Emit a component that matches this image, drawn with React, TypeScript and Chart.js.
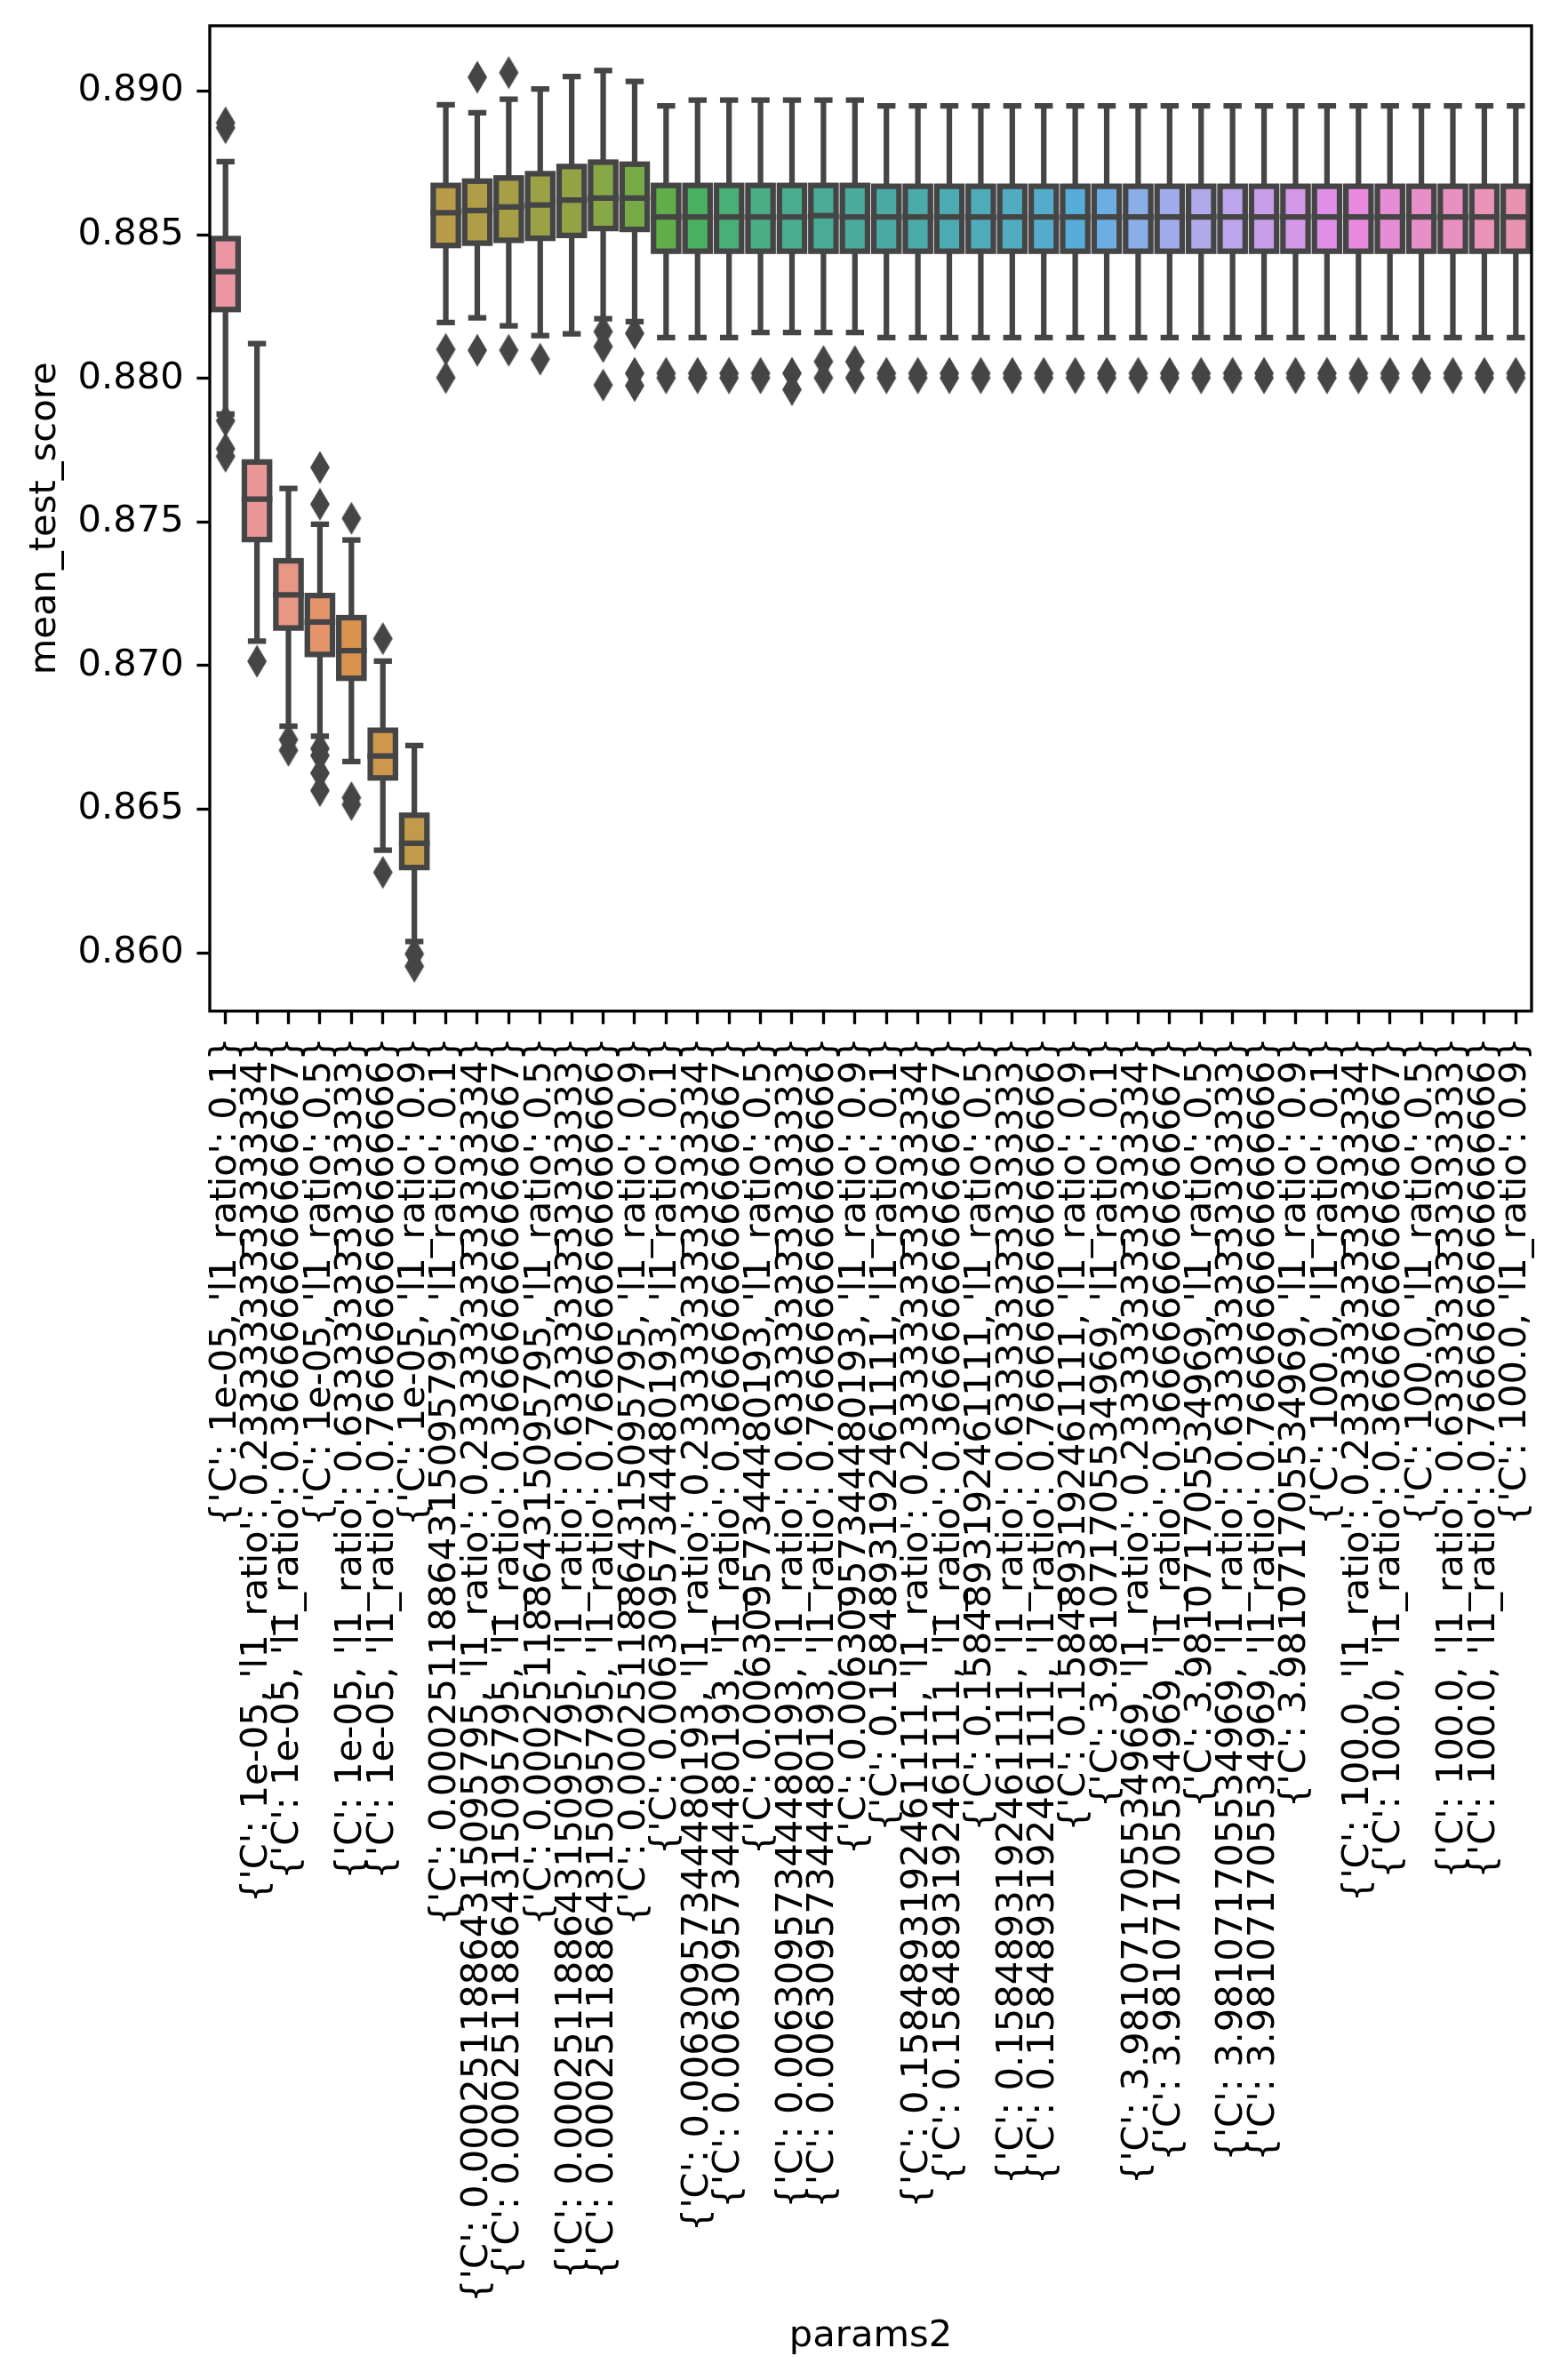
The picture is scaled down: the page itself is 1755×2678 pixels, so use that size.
import React, { useEffect, useRef } from "react";
import { Chart, registerables } from "chart.js";

Chart.register(...registerables);

// ---------- data ----------
const cValues = ["1e-05", "0.00025118864315095795", "0.00630957344480193", "0.1584893192461111", "3.981071705534969", "100.0"];
const l1Ratios = ["0.1", "0.23333333333333334", "0.3666666666666667", "0.5", "0.6333333333333333", "0.7666666666666666", "0.9"];
const categories = cValues.flatMap((c) => l1Ratios.map((r) => `{'C': ${c}, 'l1_ratio': ${r}}`));

const whiskerLow = [
  0.87876, 0.87085, 0.86789, 0.86754, 0.86666, 0.86357, 0.86039,
  0.88195, 0.88211, 0.88183, 0.88149, 0.88155, 0.88208, 0.88198,
  0.88142, 0.88142, 0.88142, 0.8816, 0.8816, 0.8816, 0.8816,
  0.88142, 0.88142, 0.88142, 0.88142, 0.88142, 0.88142, 0.88142,
  0.88142, 0.88142, 0.88142, 0.88142, 0.88142, 0.88142, 0.88142,
  0.88142, 0.88142, 0.88142, 0.88142, 0.88142, 0.88142, 0.88142,
];
const q1 = [
  0.8824, 0.87439, 0.87131, 0.87039, 0.86956, 0.86609, 0.86297,
  0.88463, 0.88471, 0.88481, 0.88488, 0.88498, 0.88522, 0.88519,
  0.88443, 0.88443, 0.88443, 0.88443, 0.88443, 0.88443, 0.88443,
  0.88443, 0.88443, 0.88443, 0.88443, 0.88443, 0.88443, 0.88443,
  0.88443, 0.88443, 0.88443, 0.88443, 0.88443, 0.88443, 0.88443,
  0.88443, 0.88443, 0.88443, 0.88443, 0.88443, 0.88443, 0.88443,
];
const median = [
  0.88372, 0.8758, 0.87246, 0.87152, 0.87052, 0.86685, 0.86381,
  0.88577, 0.88585, 0.88597, 0.88604, 0.88621, 0.88628, 0.88628,
  0.88562, 0.88562, 0.88562, 0.88562, 0.88562, 0.88567, 0.88562,
  0.88562, 0.88562, 0.88562, 0.88562, 0.88562, 0.88562, 0.88562,
  0.88562, 0.88562, 0.88562, 0.88562, 0.88562, 0.88562, 0.88562,
  0.88562, 0.88562, 0.88562, 0.88562, 0.88562, 0.88562, 0.88562,
];
const q3 = [
  0.88487, 0.87709, 0.87365, 0.87244, 0.87167, 0.86775, 0.86479,
  0.88672, 0.88687, 0.88698, 0.88713, 0.88738, 0.88753, 0.88746,
  0.88672, 0.88672, 0.88672, 0.88672, 0.88672, 0.88672, 0.88672,
  0.88669, 0.88669, 0.88669, 0.88669, 0.88669, 0.88669, 0.88669,
  0.88669, 0.88669, 0.88669, 0.88669, 0.88669, 0.88669, 0.88669,
  0.88669, 0.88669, 0.88669, 0.88669, 0.88669, 0.88669, 0.88669,
];
const whiskerHigh = [
  0.88755, 0.88121, 0.87617, 0.87492, 0.87437, 0.87016, 0.86722,
  0.88953, 0.88925, 0.88972, 0.89008, 0.89051, 0.89072, 0.89034,
  0.88949, 0.88969, 0.88969, 0.88969, 0.88969, 0.88969, 0.88969,
  0.88949, 0.88949, 0.88949, 0.88949, 0.88949, 0.88949, 0.88949,
  0.88949, 0.88949, 0.88949, 0.88949, 0.88949, 0.88949, 0.88949,
  0.88949, 0.88949, 0.88949, 0.88949, 0.88949, 0.88949, 0.88949,
];
const outliers: number[][] = [
  [0.8889, 0.88873, 0.87853, 0.87755, 0.87729],
  [0.87015],
  [0.86742, 0.86705],
  [0.8769, 0.87562, 0.86711, 0.86687, 0.86626, 0.86565],
  [0.87513, 0.8654, 0.86516],
  [0.87094, 0.8628],
  [0.85996, 0.85953],
  [0.88101, 0.88003],
  [0.89049, 0.88098],
  [0.89065, 0.88098],
  [0.88067],
  [],
  [0.88163, 0.88111, 0.87977],
  [0.88157, 0.88018, 0.87975],
  [0.88018, 0.88002],
  [0.88018, 0.88002],
  [0.88018, 0.88002],
  [0.88018, 0.88002],
  [0.88018, 0.87961],
  [0.88059, 0.88002],
  [0.88059, 0.88002],
  [0.88018, 0.88002], [0.88018, 0.88002], [0.88018, 0.88002], [0.88018, 0.88002],
  [0.88018, 0.88002], [0.88018, 0.88002], [0.88018, 0.88002],
  [0.88018, 0.88002], [0.88018, 0.88002], [0.88018, 0.88002], [0.88018, 0.88002],
  [0.88018, 0.88002], [0.88018, 0.88002], [0.88018, 0.88002],
  [0.88018, 0.88002], [0.88018, 0.88002], [0.88018, 0.88002], [0.88018, 0.88002],
  [0.88018, 0.88002], [0.88018, 0.88002], [0.88018, 0.88002],
];
const yTicks = [0.86, 0.865, 0.87, 0.875, 0.88, 0.885, 0.89];
const yMin = 0.85797;
const yMax = 0.89228;

// ---------- colours (seaborn husl palette, desaturated) ----------
const M = [
  [3.2406, -1.5372, -0.4986],
  [-0.9689, 1.8758, 0.0415],
  [0.0557, -0.204, 1.057],
];
function maxChroma(L: number, H: number) {
  const hrad = (H / 360) * 2 * Math.PI;
  const sinH = Math.sin(hrad);
  const cosH = Math.cos(hrad);
  const sub1 = Math.pow(L + 16, 3) / 1560896;
  const sub2 = sub1 > 0.008856 ? sub1 : L / 903.3;
  let result = Infinity;
  for (const [m1, m2, m3] of M) {
    const top = (0.99915 * m1 + 1.05122 * m2 + 1.1446 * m3) * sub2;
    const rb = 0.8633 * m3 - 0.17266 * m2;
    const lb = 0.12949 * m3 - 0.38848 * m1;
    const bottom = (rb * sinH + lb * cosH) * sub2;
    for (const t of [0, 1]) {
      const C = (L * (top - 1.05122 * t)) / (bottom + 0.17266 * sinH * t);
      if (C > 0 && C < result) result = C;
    }
  }
  return result;
}
function fInv(t: number) {
  const t3 = t * t * t;
  return t3 > 0.008856 ? t3 : (116 * t - 16) / 903.3;
}
function fromLinear(c: number) {
  return c <= 0.0031308 ? 12.92 * c : 1.055 * Math.pow(c, 1 / 2.4) - 0.055;
}
function huslToRgb(h: number, s: number, l: number) {
  const C = (maxChroma(l, h) / 100) * s;
  const hr = (h / 360) * 2 * Math.PI;
  const U = Math.cos(hr) * C;
  const V = Math.sin(hr) * C;
  const Y = fInv((l + 16) / 116);
  const vu = U / (13 * l) + 0.19784;
  const vv = V / (13 * l) + 0.46834;
  const X = 0 - (9 * Y * vu) / ((vu - 4) * vv - vu * vv);
  const Z = (9 * Y - 15 * vv * Y - vv * X) / (3 * vv);
  return M.map((r) => Math.min(1, Math.max(0, fromLinear(r[0] * X + r[1] * Y + r[2] * Z))));
}
function desat(rgb: number[], p: number) {
  const mx = Math.max(...rgb);
  const mn = Math.min(...rgb);
  const l = (mx + mn) / 2;
  return rgb.map((c) => l + (c - l) * p);
}
const n = categories.length;
const boxColorsRgb = categories.map((_, i) => {
  const h = ((i / n + 0.01) % 1) * 359;
  return desat(huslToRgb(h, 0.9 * 99, 0.7 * 99), 0.75);
});
const toCss = (c: number[]) => `rgb(${c.map((v) => Math.round(v * 255)).join(",")})`;
const boxColors = boxColorsRgb.map(toCss);
const lum = Math.min(...boxColorsRgb.map((c) => (Math.max(...c) + Math.min(...c)) / 2)) * 0.6;
const gray = toCss([lum, lum, lum]);

const LW = 6.25;
const FS = 41.67;
const TICK = 14.6;
const FONT = "'DejaVu Sans', 'Liberation Sans', sans-serif";

export default function App() {
  const ref = useRef<HTMLCanvasElement | null>(null);
  useEffect(() => {
    if (!ref.current) return;
    // thin diamond marker
    const dm = document.createElement("canvas");
    dm.width = 24;
    dm.height = 38;
    const dctx = dm.getContext("2d")!;
    dctx.fillStyle = gray;
    dctx.beginPath();
    dctx.moveTo(12, 0.5);
    dctx.lineTo(23, 19);
    dctx.lineTo(12, 37.5);
    dctx.lineTo(1, 19);
    dctx.closePath();
    dctx.fill();

    const flierData: { x: string; y: number }[] = [];
    outliers.forEach((arr, i) => arr.forEach((v) => flierData.push({ x: categories[i], y: v })));

    const boxPlugin = {
      id: "boxLines",
      afterDatasetsDraw(chart: any) {
        const ctx = chart.ctx;
        const meta = chart.getDatasetMeta(0);
        const ys = chart.scales.y;
        ctx.save();
        ctx.strokeStyle = gray;
        ctx.lineWidth = LW;
        meta.data.forEach((bar: any, i: number) => {
          const { x, width } = bar.getProps(["x", "width"], true);
          const pLo = ys.getPixelForValue(whiskerLow[i]);
          const pQ1 = ys.getPixelForValue(q1[i]);
          const pMed = ys.getPixelForValue(median[i]);
          const pQ3 = ys.getPixelForValue(q3[i]);
          const pHi = ys.getPixelForValue(whiskerHigh[i]);
          ctx.lineCap = "butt";
          ctx.beginPath();
          ctx.moveTo(x, pQ1);
          ctx.lineTo(x, pLo);
          ctx.moveTo(x, pQ3);
          ctx.lineTo(x, pHi);
          ctx.stroke();
          ctx.lineCap = "square";
          ctx.beginPath();
          ctx.moveTo(x - width / 4, pLo);
          ctx.lineTo(x + width / 4, pLo);
          ctx.moveTo(x - width / 4, pHi);
          ctx.lineTo(x + width / 4, pHi);
          ctx.stroke();
          ctx.lineJoin = "miter";
          ctx.strokeRect(x - width / 2, pQ3, width, pQ1 - pQ3);
          ctx.beginPath();
          ctx.moveTo(x - width / 2, pMed);
          ctx.lineTo(x + width / 2, pMed);
          ctx.stroke();
        });
        ctx.restore();
      },
    };
    const framePlugin = {
      id: "frame",
      afterDraw(chart: any) {
        const { ctx, chartArea: a } = chart;
        ctx.save();
        ctx.strokeStyle = "#000";
        ctx.lineWidth = 3.33;
        ctx.lineJoin = "miter";
        ctx.strokeRect(a.left, a.top, a.right - a.left, a.bottom - a.top);
        ctx.restore();
      },
    };

    const chart = new Chart(ref.current, {
      type: "bar",
      data: {
        labels: categories,
        datasets: [
          {
            type: "bar",
            data: categories.map((_, i) => [q1[i], q3[i]]),
            backgroundColor: boxColors,
            borderWidth: 0,
            barPercentage: 0.8,
            categoryPercentage: 1.0,
            grouped: false,
          } as any,
          {
            type: "scatter",
            data: flierData,
            pointStyle: dm as any,
            pointRadius: 10,
            showLine: false,
          } as any,
        ],
      },
      options: {
        responsive: false,
        animation: false,
        devicePixelRatio: 1,
        layout: { padding: { top: 29, right: 32, left: 0, bottom: 0 } },
        plugins: { legend: { display: false }, tooltip: { enabled: false } },
        scales: {
          x: {
            type: "category",
            offset: true,
            grid: {
              display: true,
              drawOnChartArea: false,
              drawTicks: true,
              tickLength: TICK,
              tickWidth: 3.33,
              tickColor: "#000",
              offset: false,
            },
            border: { display: false },
            ticks: {
              autoSkip: false,
              maxRotation: 90,
              minRotation: 90,
              padding: 14.6,
              color: "#000",
              font: { family: FONT, size: FS },
            },
            title: {
              display: true,
              text: "params2",
              color: "#000",
              font: { family: FONT, size: FS },
              padding: { top: 0, bottom: 24 },
            },
            afterFit: (s: any) => {
              s.height = 2678 - 1137.7;
              s.paddingLeft = 0;
              s.paddingRight = 0;
            },
          },
          y: {
            type: "linear",
            min: yMin,
            max: yMax,
            grid: {
              display: true,
              drawOnChartArea: false,
              drawTicks: true,
              tickLength: TICK,
              tickWidth: 3.33,
              tickColor: "#000",
            },
            border: { display: false },
            afterBuildTicks: (s: any) => {
              s.ticks = yTicks.map((v) => ({ value: v }));
            },
            ticks: {
              padding: 14.6,
              color: "#000",
              font: { family: FONT, size: FS },
              callback: (v: any) => Number(v).toFixed(3),
            },
            title: {
              display: true,
              text: "mean_test_score",
              color: "#000",
              font: { family: FONT, size: FS },
              padding: { top: 26, bottom: 0 },
            },
            afterFit: (s: any) => {
              s.width = 236;
              s.paddingTop = 0;
              s.paddingBottom = 0;
            },
          },
        },
      } as any,
      plugins: [boxPlugin, framePlugin],
    });
    return () => chart.destroy();
  }, []);

  return (
    <div style={{ position: "absolute", left: 0, top: 0, width: 1755, height: 2678, background: "#fff" }}>
      <canvas ref={ref} width={1755} height={2678} style={{ display: "block", width: 1755, height: 2678 }} />
    </div>
  );
}
